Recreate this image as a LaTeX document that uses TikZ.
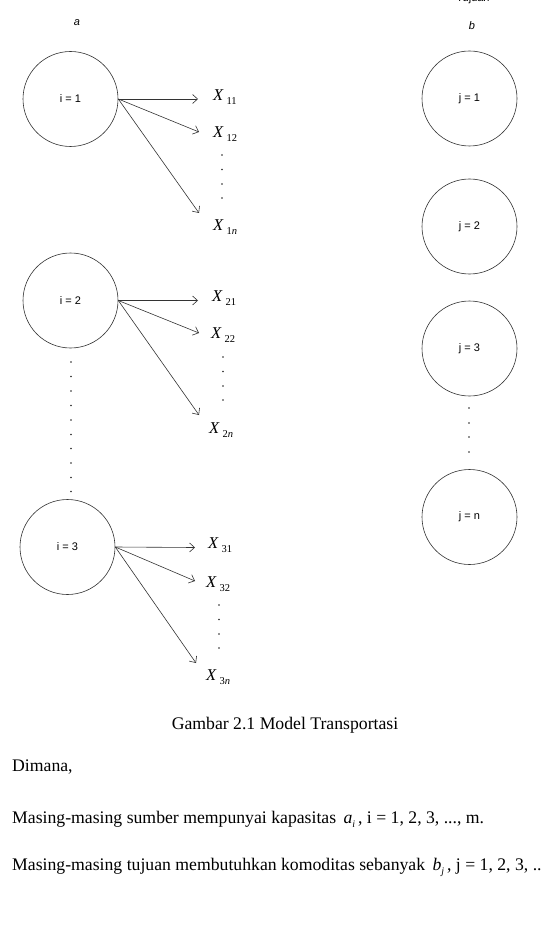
\documentclass[tikz,border=0pt]{standalone}
\usepackage{fontspec}
\usetikzlibrary{arrows.meta}
\setmainfont{Liberation Serif}
\newfontfamily\arialf{Liberation Sans}
\begin{document}
\begin{tikzpicture}[x=1pt,y=-1pt,
  circ/.style={draw=black!80,line width=0.6pt,circle,minimum size=95pt,inner sep=0pt,font=\arialf\fontsize{11}{13}\selectfont},
  arr/.style={-{Straight Barb[length=5pt,width=9pt,line width=0.6pt]},draw=black!80,line width=0.6pt},
  xlab/.style={anchor=west,inner sep=0pt,font=\fontsize{16.5}{18}\selectfont},
  dotc/.style={circle,fill=black!85,inner sep=0pt,minimum size=1.8pt},
  body/.style={anchor=base west,inner sep=0pt,font=\fontsize{17.7}{20}\selectfont}
]
\useasboundingbox (0,0) rectangle (552,933);
\newcommand{\XL}[2]{\textit{X}\,\raisebox{-0.5ex}{\fontsize{10.5}{12}\selectfont #1#2}}
% headers
\node[anchor=base,inner sep=0pt,font=\arialf\itshape\fontsize{11}{13}\selectfont] (ha) at (77,26) {a};
\node[anchor=base,inner sep=0pt,font=\arialf\itshape\fontsize{11}{13}\selectfont] (hb) at (472,30) {b};
\node[anchor=base,inner sep=0pt,font=\arialf\fontsize{11}{13}\selectfont] (ht) at (473,2) {Tujuan};
% source circles
\node[circ] (s1) at (70.5,99) {i = 1};
\node[circ] (s2) at (70.5,300.5) {i = 2};
\node[circ] (s3) at (67.5,547) {i = 3};
% destination circles
\node[circ] (d1) at (469.5,98.5) {j = 1};
\node[circ] (d2) at (469.5,226.5) {j = 2};
\node[circ] (d3) at (469.5,348.5) {j = 3};
\node[circ] (dn) at (469.5,517) {j = n};
% arrow ends
\coordinate (e11) at (198,99);
\coordinate (e12) at (199,132);
\coordinate (e1n) at (199,213);
\coordinate (e21) at (198,300.5);
\coordinate (e22) at (199,333);
\coordinate (e2n) at (199,415);
\coordinate (e31) at (195,547.5);
\coordinate (e32) at (195,581);
\coordinate (e3n) at (196,663);
\draw[arr] (s1.east) -- (e11);
\draw[arr] (s1.east) -- (e12);
\draw[arr] (s1.east) -- (e1n);
\draw[arr] (s2.east) -- (e21);
\draw[arr] (s2.east) -- (e22);
\draw[arr] (s2.east) -- (e2n);
\draw[arr] (s3.east) -- (e31);
\draw[arr] (s3.east) -- (e32);
\draw[arr] (s3.east) -- (e3n);
% X labels
\node[xlab] (x11) at (213,97) {\XL{1}{1}};
\node[xlab] (x12) at (213,134) {\XL{1}{2}};
\node[xlab] (x1n) at (213,227) {\XL{1}{\textit{n}}};
\node[xlab] (x21) at (212,298) {\XL{2}{1}};
\node[xlab] (x22) at (211,335) {\XL{2}{2}};
\node[xlab] (x2n) at (209,430) {\XL{2}{\textit{n}}};
\node[xlab] (x31) at (208,545) {\XL{3}{1}};
\node[xlab] (x32) at (206,584) {\XL{3}{2}};
\node[xlab] (x3n) at (206,677) {\XL{3}{\textit{n}}};
% vertical dots
\foreach \y in {155,169.5,184,198} \node[dotc] at (222,\y) {};
\foreach \y in {357,371.5,386,400} \node[dotc] at (223,\y) {};
\foreach \y in {605,619.5,634,648} \node[dotc] at (219,\y) {};
\foreach \y in {362,376.5,391,405.5,420,434.5,448.5,463,477.5,491.5} \node[dotc] at (71,\y) {};
\foreach \y in {408,423,437,452} \node[dotc] at (469,\y) {};
% caption and text
\node[anchor=base,inner sep=0pt,font=\fontsize{17.7}{20}\selectfont] (cap) at (285,729) {Gambar 2.1 Model Transportasi};
\node[body] (t1) at (12,771) {Dimana,};
\node[body] (t2) at (12,823) {Masing-masing sumber mempunyai kapasitas \,\textit{a}\raisebox{-0.5ex}{\fontsize{10}{11}\selectfont\textit{i}}\,, i = 1, 2, 3, ..., m.};
\node[body] (t3) at (12,870) {Masing-masing tujuan membutuhkan komoditas sebanyak \,\textit{b}\raisebox{-0.5ex}{\fontsize{10}{11}\selectfont\textit{j}}\,, j = 1, 2, 3, ..};
\end{tikzpicture}
\end{document}
